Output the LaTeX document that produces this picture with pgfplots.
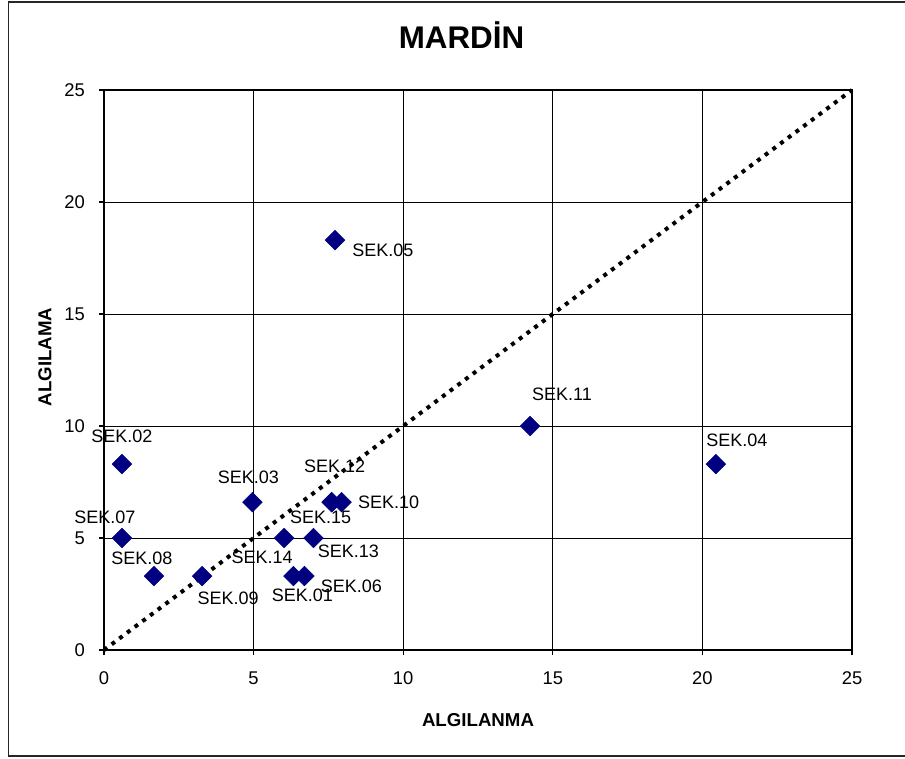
\documentclass[border=0pt]{standalone}
\usepackage{pgfplots}
\pgfplotsset{compat=1.18}
\usepackage{pgfplotstable}
\usepackage{fontspec}
\setmainfont{Liberation Sans}
\definecolor{navy}{RGB}{0,0,128}
\pgfplotstableread{
x y label dx dy
6.33 3.3 SEK.01 9 19
0.6 8.3 SEK.02 0 -28
4.96 6.6 SEK.03 -4 -25
20.45 8.3 SEK.04 21 -24
7.72 18.3 SEK.05 48 10
6.7 3.3 SEK.06 47 10
0.6 5.0 SEK.07 -17 -21
1.67 3.3 SEK.08 -12 -18
3.28 3.3 SEK.09 26 22
7.94 6.6 SEK.10 47 0
14.24 10.0 SEK.11 32 -32
7.61 6.6 SEK.12 3 -36
7.0 5.0 SEK.13 35 13
6.02 5.0 SEK.14 -22 19
7.61 6.6 SEK.15 -11 15
}\datatable
\begin{document}
\begin{tikzpicture}
\useasboundingbox (0,0) rectangle (678.75pt,568.5pt);
\draw[line width=1.1pt, black!85] (700pt,567pt) -- (6.4pt,567pt) -- (6.4pt,1.5pt) -- (700pt,1.5pt);
\begin{axis}[
  at={(78pt,81pt)}, anchor=south west,
  width=561pt, height=420pt, scale only axis,
  xmin=0, xmax=25, ymin=0, ymax=25,
  xtick={0,5,...,25}, ytick={0,5,...,25},
  grid=major,
  major grid style={black, line width=0.6pt},
  axis line style={black, line width=1.2pt},
  tick style={black, line width=0.8pt},
  tick align=outside, major tick length=3.75pt,
  xtick pos=bottom, ytick pos=left,
  /pgf/number format/assume math mode=true,
  ticklabel style={font=\fontsize{13.8}{15}\selectfont},
  yticklabel style={xshift=-7pt},
  xticklabel style={yshift=-9pt},
  clip=false,
  title={MARDİN},
  title style={font=\fontsize{23.5}{28}\selectfont\bfseries, at={(rel axis cs:0.478,1.083)}, anchor=center},
  xlabel={ALGILANMA},
  xlabel style={font=\fontsize{14}{17}\selectfont\bfseries, at={(rel axis cs:0.5,-0.125)}, anchor=center},
  ylabel={ALGILAMA},
  ylabel style={font=\fontsize{14}{17}\selectfont\bfseries, at={(rel axis cs:-0.0789,0.523)}, anchor=center, rotate=0},
]
\addplot[black, line width=3pt, dash pattern=on 3pt off 4.2pt] coordinates {(0,0) (25,25)};
\addplot[only marks, mark=square*, mark size=5.2pt,
  mark options={rotate=45, fill=navy, draw=navy},
  point meta=explicit symbolic,
  visualization depends on={\thisrow{dx}\as\dx},
  visualization depends on={\thisrow{dy}\as\dy},
  nodes near coords,
  every node near coord/.append style={anchor=center, inner sep=0pt,
    xshift={0.75pt*\dx}, yshift={-0.75pt*\dy},
    font=\fontsize{13.5}{16}\selectfont, black}]
  table[x=x, y=y, meta=label] {\datatable};
\end{axis}
\end{tikzpicture}
\end{document}
